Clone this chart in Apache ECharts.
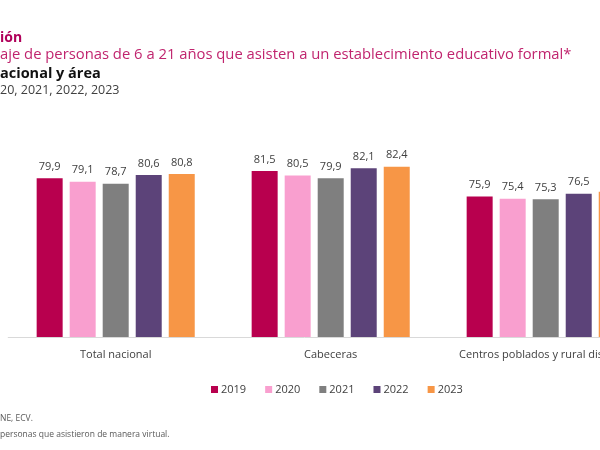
<!DOCTYPE html>
<html><head><meta charset="utf-8">
<script src="https://cdn.jsdelivr.net/npm/echarts@6/dist/echarts.min.js"></script>
<style>html,body{margin:0;padding:0;background:#fff}#c{width:600px;height:450px}</style>
</head><body><div id="c"></div>
<script>
const categories = ['Total nacional', 'Cabeceras', 'Centros poblados y rural disperso'];
const years = ['2019', '2020', '2021', '2022', '2023'];
const v2019 = [79.9, 81.5, 75.9];
const v2020 = [79.1, 80.5, 75.4];
const v2021 = [78.7, 79.9, 75.3];
const v2022 = [80.6, 82.1, 76.5];
const v2023 = [80.8, 82.4, 76.9];
const seriesValues = [v2019, v2020, v2021, v2022, v2023];
const colors = ['#B8004E', '#F99FCF', '#7F7F7F', '#5C4379', '#F79646'];
const titleLines = ['ión', 'aje de personas de 6 a 21 años que asisten a un establecimiento educativo formal*', 'acional y área', '20, 2021, 2022, 2023'];
const notes = ['NE, ECV.', 'personas que asistieron de manera virtual.'];

const FONT = '"Open Sans", "Noto Sans", sans-serif';
const chart = echarts.init(document.getElementById('c'));
chart.setOption({
  animation: false,
  textStyle: { fontFamily: FONT },
  graphic: [
    { type: 'text', left: 0, top: 31, style: { text: titleLines[0], font: 'bold 14px ' + FONT, fill: '#B0005A' } },
    { type: 'text', left: 0, top: 47, style: { text: titleLines[1], font: '14.8px ' + FONT, fill: '#C0246E' } },
    { type: 'text', left: 0, top: 66, style: { text: titleLines[2], font: 'bold 14.5px ' + FONT, fill: '#111' } },
    { type: 'text', left: 0, top: 84, style: { text: titleLines[3], font: '12.5px ' + FONT, fill: '#404040' } },
    { type: 'text', left: 0, top: 414, style: { text: notes[0], font: '8.5px ' + FONT, fill: '#595959' } },
    { type: 'text', left: 0, top: 430, style: { text: notes[1], font: '8.5px ' + FONT, fill: '#595959' } }
  ],
  legend: {
    data: years, left: 206, top: 379, itemWidth: 7, itemHeight: 7, itemGap: 19,
    icon: 'rect', textStyle: { fontSize: 11, color: '#404040', padding: [0, 0, 0, -2] }
  },
  grid: { left: 8.2, width: 645, top: 132.25, bottom: 113, containLabel: false, outerBoundsMode: 'none' },
  xAxis: {
    type: 'category', data: categories,
    axisLine: { lineStyle: { color: '#D9D9D9', width: 1 } },
    axisTick: { show: false },
    axisLabel: { color: '#404040', fontSize: 11, margin: 12, interval: 0, hideOverlap: false }
  },
  yAxis: { type: 'value', min: 45, max: 90, show: false, splitLine: { show: false } },
  series: years.map((y, i) => ({
    name: y, type: 'bar', data: seriesValues[i], barWidth: 26, barGap: '27%',
    itemStyle: { color: colors[i] },
    label: { show: true, position: 'top', distance: 6, color: '#404040', fontSize: 11,
      formatter: p => p.value.toFixed(1).replace('.', ',') }
  }))
});
</script></body></html>
